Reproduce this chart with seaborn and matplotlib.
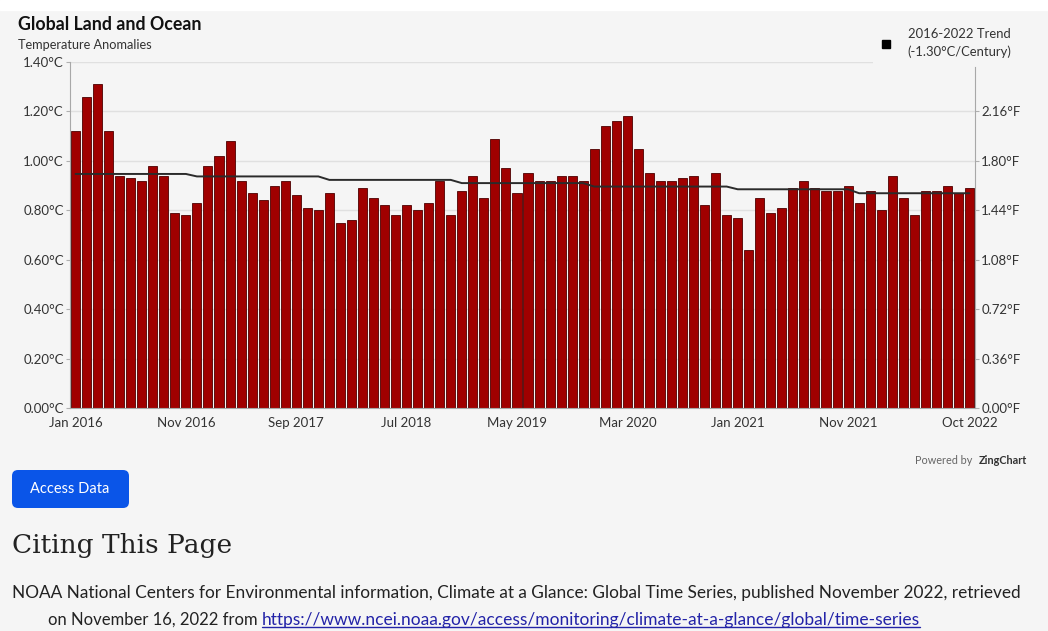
import numpy as np
import pandas as pd
import matplotlib.pyplot as plt
from matplotlib.lines import Line2D
from matplotlib.patches import FancyBboxPatch, Rectangle
from matplotlib.transforms import IdentityTransform
import seaborn as sns

# monthly global land+ocean anomalies (°C), Jan 2016 .. Oct 2022
anom_2016 = [1.12, 1.26, 1.31, 1.12, 0.94, 0.93, 0.92, 0.98, 0.94, 0.79, 0.78, 0.83]
anom_2017 = [0.98, 1.02, 1.08, 0.92, 0.87, 0.84, 0.90, 0.92, 0.86, 0.81, 0.80, 0.87]
anom_2018 = [0.75, 0.76, 0.89, 0.85, 0.82, 0.78, 0.82, 0.80, 0.83, 0.92, 0.78, 0.88]
anom_2019 = [0.94, 0.85, 1.09, 0.97, 0.87, 0.95, 0.92, 0.92, 0.94, 0.94, 0.92, 1.05]
anom_2020 = [1.14, 1.16, 1.18, 1.05, 0.95, 0.92, 0.92, 0.93, 0.94, 0.82, 0.95, 0.78]
anom_2021 = [0.77, 0.64, 0.85, 0.79, 0.81, 0.89, 0.92, 0.89, 0.88, 0.88, 0.90, 0.83]
anom_2022 = [0.88, 0.80, 0.94, 0.85, 0.78, 0.88, 0.88, 0.90, 0.87, 0.89]

anomalies = anom_2016 + anom_2017 + anom_2018 + anom_2019 + anom_2020 + anom_2021 + anom_2022
months = pd.date_range('2016-01-01', periods=len(anomalies), freq='MS')

# trend line as drawn (stepped): level and how many months it holds
trend_levels = [0.947, 0.937, 0.923, 0.910, 0.896, 0.885, 0.869]
trend_months = [11, 12, 12, 12, 13, 11, 11]
trend = np.repeat(trend_levels, trend_months)

xtick_pos = [0, 10, 20, 30, 40, 50, 60, 70, 81]
c_ticks = [0.0, 0.2, 0.4, 0.6, 0.8, 1.0, 1.2, 1.4]
f_ticks = [0.0, 0.36, 0.72, 1.08, 1.44, 1.80, 2.16]

df = pd.DataFrame({'idx': np.arange(len(anomalies)), 'anom': anomalies, 'trend': trend})

sns.set_style('white')
plt.rcParams['font.family'] = ['Lato', 'DejaVu Sans']
bg = '#f5f5f5'

fig = plt.figure(figsize=(10.48, 6.31), dpi=100, facecolor=bg)
fig.add_artist(Rectangle((0, 1 - 10 / 631), 1, 10 / 631, transform=fig.transFigure,
                         color='white', zorder=0))

ax = fig.add_axes([70 / 1048, 1 - 408 / 631, 905 / 1048, 346 / 631])
ax.set_facecolor('none')

sns.barplot(data=df, x='idx', y='anom', color='#a00000', saturation=1, width=0.82,
            edgecolor='#4d0000', linewidth=0.6, ax=ax)
ax.plot(df['idx'], df['trend'], color='#2b2b2b', lw=1.4, zorder=4)

ax.set_xlim(-0.5, len(anomalies) - 0.5)
ax.set_ylim(0, 1.40)
ax.set_yticks(c_ticks)
ax.set_yticklabels([f'{v:.2f}°C' for v in c_ticks])
ax.set_xticks(xtick_pos)
ax.set_xticklabels([months[i].strftime('%b %Y') for i in xtick_pos])
ax.set_xlabel('')
ax.set_ylabel('')
ax.set_axisbelow(True)
ax.yaxis.grid(True, color='#e0e0e0', lw=1)
ax.tick_params(axis='y', direction='out', length=3, width=0.8, color='#b0b0b0',
               labelsize=9.5, labelcolor='#333333', pad=1.5)
ax.tick_params(axis='x', direction='out', length=4, width=0.8, color='#b0b0b0',
               labelsize=9.5, labelcolor='#333333', pad=2.5)
for s in ['top', 'right']:
    ax.spines[s].set_visible(False)
for s in ['left', 'bottom']:
    ax.spines[s].set_color('#a8a8a8')
    ax.spines[s].set_linewidth(0.8)

ax2 = ax.twinx()
ax2.set_ylim(0, 2.52)
ax2.set_yticks(f_ticks)
ax2.set_yticklabels([f'{v:.2f}°F' for v in f_ticks])
ax2.tick_params(axis='y', direction='out', length=3, width=0.8, color='#b0b0b0',
                labelsize=9.5, labelcolor='#333333', pad=1.5)
for s in ['top', 'left', 'bottom']:
    ax2.spines[s].set_visible(False)
ax2.spines['right'].set_color('#a8a8a8')
ax2.spines['right'].set_linewidth(0.8)
ax2.spines['right'].set_bounds(0, 2.48)

handle = Line2D([], [], marker='s', color='black', ls='none', markersize=5.5)
leg = fig.legend([handle], ['2016-2022 Trend\n(-1.30°C/Century)'], loc='upper left',
                 bbox_to_anchor=(866 / 1048, 1 - 15 / 631), frameon=True, facecolor=bg,
                 edgecolor='none', fancybox=False, framealpha=1, fontsize=9.4,
                 handletextpad=1.2, borderpad=0.5, handlelength=1.0, labelcolor='#333333')
leg.get_texts()[0].set_linespacing(1.55)

# titles
fig.text(18 / 1048, 1 - 24 / 631, 'Global Land and Ocean', fontsize=12.8,
         fontweight='bold', color='#111111', va='center')
fig.text(18 / 1048, 1 - 45 / 631, 'Temperature Anomalies', fontsize=9.2,
         color='#333333', va='center')

# page furniture under the chart
fig.text(1027 / 1048, 1 - 461 / 631, 'ZingChart', fontsize=7.8, fontweight='bold',
         color='#333333', ha='right', va='center')
fig.text(972 / 1048, 1 - 461 / 631, 'Powered by', fontsize=7.8, color='#666666',
         ha='right', va='center')

btn = FancyBboxPatch((0.12, 1.23), 1.17, 0.38, boxstyle='round,pad=0,rounding_size=0.06',
                     transform=fig.dpi_scale_trans, facecolor='#0a55e8', edgecolor='none')
fig.add_artist(btn)
fig.text(70 / 1048, 1 - 489 / 631, 'Access Data', fontsize=10.5, color='white',
         ha='center', va='center')

fig.text(12 / 1048, 1 - 545 / 631, 'Citing This Page', fontsize=19,
         family='DejaVu Serif', color='#222222', va='center')
fig.text(12 / 1048, 1 - 593 / 631,
         'NOAA National Centers for Environmental information, Climate at a Glance: '
         'Global Time Series, published November 2022, retrieved',
         fontsize=12.4, color='#222222', va='center')
t_from = fig.text(48 / 1048, 1 - 620 / 631, 'on November 16, 2022 from ', fontsize=12.0,
                  color='#222222', va='center')

fig.canvas.draw()
r = fig.canvas.get_renderer()
bb = t_from.get_window_extent(r)
link = fig.text(bb.x1 / 1048, 1 - 620 / 631,
                'https://www.ncei.noaa.gov/access/monitoring/climate-at-a-glance/global/time-series',
                fontsize=12.5, color='#2323a8', va='center')
fig.canvas.draw()
lb = link.get_window_extent(r)
fig.add_artist(Line2D([lb.x0, lb.x1], [lb.y0 + 1.5, lb.y0 + 1.5], transform=IdentityTransform(),
                      color='#2323a8', lw=1))

fig.savefig('out.png', dpi=100, facecolor=bg)
